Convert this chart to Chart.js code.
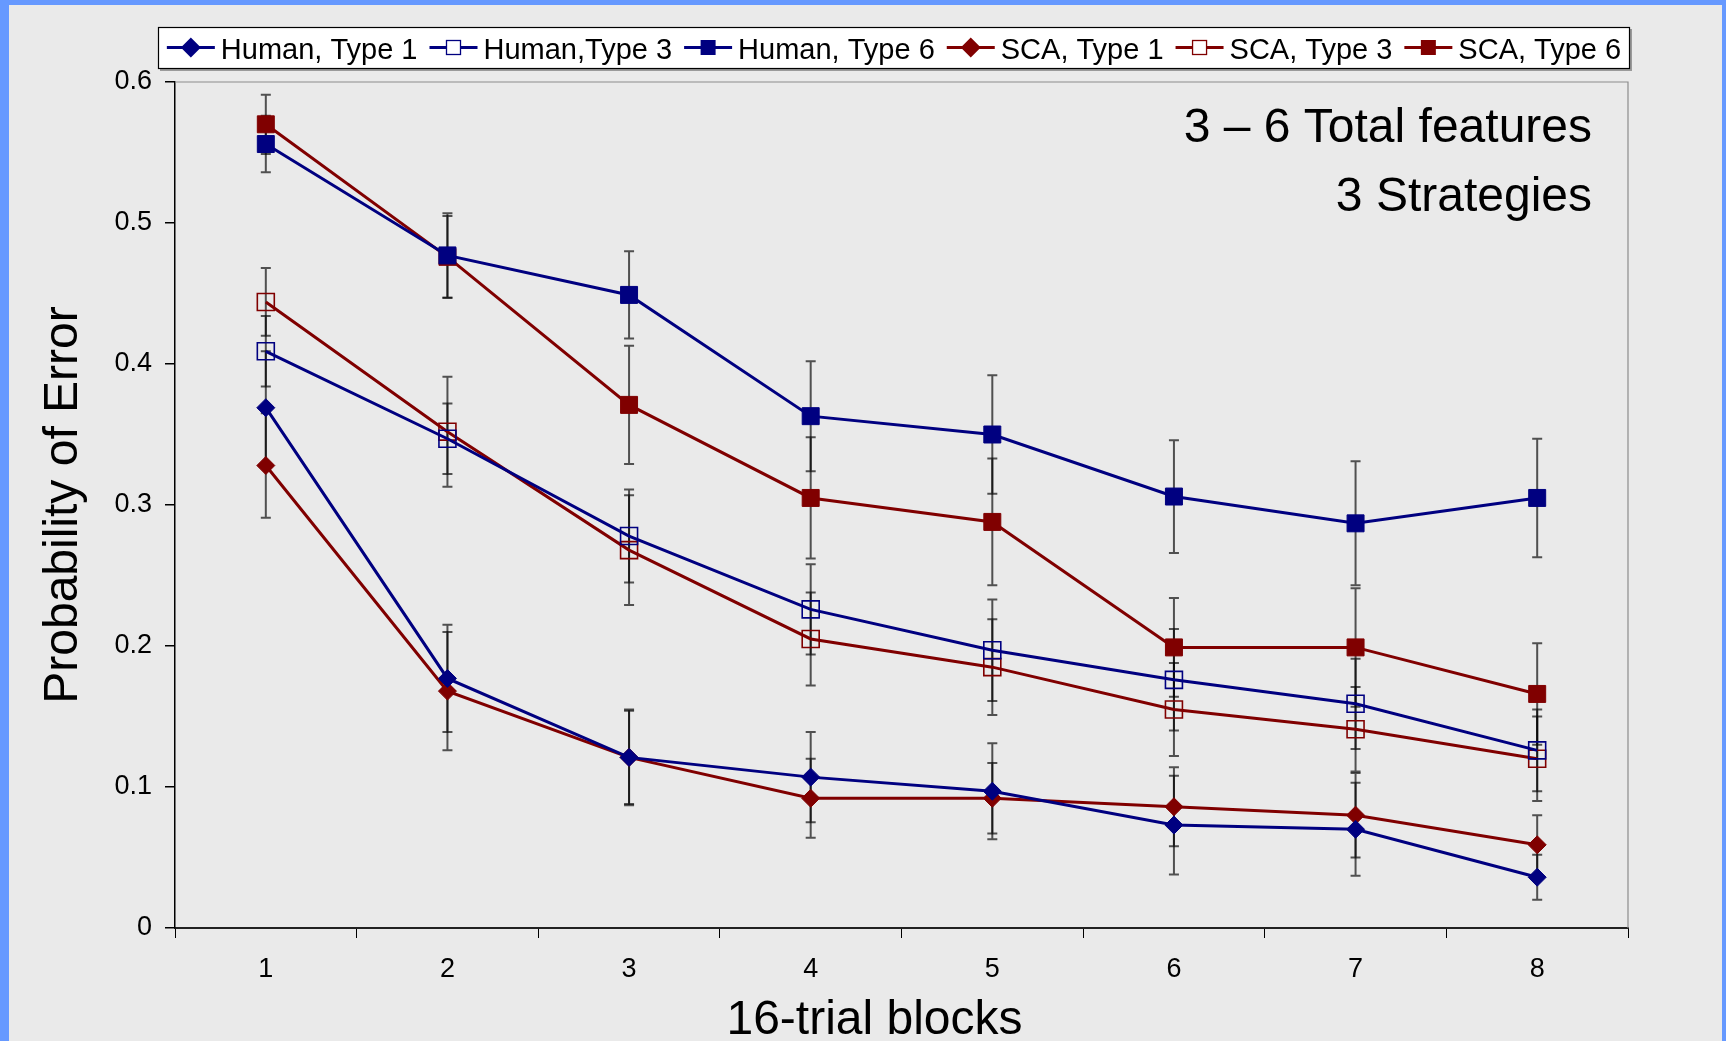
<!DOCTYPE html>
<html>
<head>
<meta charset="utf-8">
<title>Probability of Error by 16-trial block</title>
<script src="https://cdn.jsdelivr.net/npm/chart.js@4.4.1/dist/chart.umd.min.js"></script>
<style>
  html, body { margin: 0; padding: 0; background: #6699ff; }
  canvas { display: block; }
</style>
</head>
<body>
<canvas id="errChart" width="1726" height="1041"></canvas>
<script>
// Blocks of 16 trials on the x axis
const blockLabels = ['1', '2', '3', '4', '5', '6', '7', '8'];
const yTickLabels = ['0', '0.1', '0.2', '0.3', '0.4', '0.5', '0.6'];

// Mean probability of error per block, with the half-length of each error bar
const humanType1    = [0.369, 0.177, 0.121, 0.107, 0.097, 0.073, 0.070, 0.036];
const humanType1Err = [0.040, 0.038, 0.033, 0.032, 0.034, 0.035, 0.033, 0.016];
const humanType3    = [0.409, 0.347, 0.278, 0.226, 0.197, 0.176, 0.159, 0.126];
const humanType3Err = [0.025, 0.025, 0.033, 0.032, 0.036, 0.036, 0.032, 0.029];
const humanType6    = [0.556, 0.477, 0.449, 0.363, 0.350, 0.306, 0.287, 0.305];
const humanType6Err = [0.020, 0.030, 0.031, 0.039, 0.042, 0.040, 0.044, 0.042];
const scaType1      = [0.328, 0.168, 0.121, 0.092, 0.092, 0.086, 0.080, 0.059];
const scaType1Err   = [0.037, 0.042, 0.034, 0.028, 0.025, 0.028, 0.030, 0.021];
const scaType3      = [0.444, 0.352, 0.268, 0.205, 0.185, 0.155, 0.141, 0.120];
const scaType3Err   = [0.024, 0.039, 0.039, 0.033, 0.034, 0.033, 0.030, 0.030];
const scaType6      = [0.570, 0.476, 0.371, 0.305, 0.288, 0.199, 0.199, 0.166];
const scaType6Err   = [0.021, 0.029, 0.042, 0.043, 0.045, 0.035, 0.042, 0.036];

const seriesNames = ['Human, Type 1', 'Human,Type 3', 'Human, Type 6', 'SCA, Type 1', 'SCA, Type 3', 'SCA, Type 6'];
const noteLines = ['3 \u2013 6 Total features', '3 Strategies'];
const xTitle = '16-trial blocks';
const yTitle = 'Probability of Error';

const FONT = '"Liberation Sans", Arial, Helvetica, sans-serif';
const NAVY = '#000080';
const MAROON = '#800000';
const PANEL = '#eaeaea';

Chart.defaults.font.family = FONT;
Chart.defaults.color = '#000';

function makeSeries(label, values, errors, color, marker) {
  const base = {
    label: label,
    data: values,
    errorBars: errors,
    marker: marker,
    borderColor: color,
    backgroundColor: color,
    borderWidth: 3,
    tension: 0,
    fill: false,
    pointBorderColor: color
  };
  if (marker === 'diamond') {
    return Object.assign(base, { pointStyle: 'rectRot', pointRadius: 9, pointBackgroundColor: color, pointBorderWidth: 1 });
  }
  if (marker === 'open') {
    return Object.assign(base, { pointStyle: 'rect', pointRadius: 12, pointBackgroundColor: 'rgba(0,0,0,0)', pointBorderWidth: 1.6 });
  }
  return Object.assign(base, { pointStyle: 'rect', pointRadius: 12, pointBackgroundColor: color, pointBorderWidth: 1 });
}

const datasets = [
  makeSeries(seriesNames[0], humanType1, humanType1Err, NAVY, 'diamond'),
  makeSeries(seriesNames[1], humanType3, humanType3Err, NAVY, 'open'),
  makeSeries(seriesNames[2], humanType6, humanType6Err, NAVY, 'square'),
  makeSeries(seriesNames[3], scaType1, scaType1Err, MAROON, 'diamond'),
  makeSeries(seriesNames[4], scaType3, scaType3Err, MAROON, 'open'),
  makeSeries(seriesNames[5], scaType6, scaType6Err, MAROON, 'square')
];

// Page frame: blue edge with a light grey panel
const framePlugin = {
  id: 'frame',
  beforeDraw(chart) {
    const { ctx, width, height } = chart;
    ctx.save();
    ctx.fillStyle = '#6699ff';
    ctx.fillRect(0, 0, width, height);
    ctx.fillStyle = PANEL;
    ctx.fillRect(9, 5, width - 9 - 4, height - 5);
    ctx.restore();
  },
  afterDraw(chart) {
    // grey border on top and right of the plot area
    const { ctx, chartArea: a } = chart;
    ctx.save();
    ctx.strokeStyle = '#8c8c8c';
    ctx.lineWidth = 1.2;
    ctx.beginPath();
    ctx.moveTo(a.left, a.top);
    ctx.lineTo(a.right, a.top);
    ctx.lineTo(a.right, a.bottom);
    ctx.stroke();
    ctx.restore();
  }
};

// Vertical error bars with caps, drawn behind the series lines
const errorBarPlugin = {
  id: 'errorBars',
  beforeDatasetsDraw(chart) {
    const { ctx } = chart;
    const xs = chart.scales.x, ys = chart.scales.y;
    ctx.save();
    ctx.strokeStyle = 'rgba(0,0,0,0.66)';
    ctx.lineWidth = 2;
    chart.data.datasets.forEach((ds, di) => {
      if (!chart.isDatasetVisible(di)) return;
      ds.data.forEach((v, i) => {
        const e = ds.errorBars[i];
        const x = xs.getPixelForValue(i);
        const yHi = ys.getPixelForValue(v + e);
        const yLo = ys.getPixelForValue(v - e);
        ctx.beginPath();
        ctx.moveTo(x, yHi); ctx.lineTo(x, yLo);
        ctx.moveTo(x - 5, yHi); ctx.lineTo(x + 5, yHi);
        ctx.moveTo(x - 5, yLo); ctx.lineTo(x + 5, yLo);
        ctx.stroke();
      });
    });
    ctx.restore();
  }
};

function drawLegendMarker(ctx, marker, x, y, color) {
  ctx.save();
  ctx.fillStyle = color;
  ctx.strokeStyle = color;
  if (marker === 'diamond') {
    const r = 10;
    ctx.beginPath();
    ctx.moveTo(x - r, y); ctx.lineTo(x, y - r); ctx.lineTo(x + r, y); ctx.lineTo(x, y + r);
    ctx.closePath();
    ctx.fill();
  } else if (marker === 'open') {
    ctx.fillStyle = '#ffffff';
    ctx.fillRect(x - 7, y - 7, 14, 14);
    ctx.lineWidth = 1.3;
    ctx.strokeRect(x - 7, y - 7, 14, 14);
  } else {
    ctx.fillRect(x - 7.5, y - 7.5, 15, 15);
  }
  ctx.restore();
}

// Boxed legend across the top, with a line-and-marker key for each series
const legendPlugin = {
  id: 'boxedLegend',
  afterDraw(chart) {
    const { ctx } = chart;
    const box = { left: 158, top: 27, right: 1630, bottom: 69 };
    ctx.save();
    ctx.fillStyle = '#9a9a9a';
    ctx.fillRect(box.left + 2, box.top + 2, box.right - box.left, box.bottom - box.top);
    ctx.fillStyle = '#ffffff';
    ctx.fillRect(box.left, box.top, box.right - box.left, box.bottom - box.top);
    ctx.strokeStyle = '#000';
    ctx.lineWidth = 1.2;
    ctx.strokeRect(box.left + 0.5, box.top + 0.5, box.right - box.left - 1, box.bottom - box.top - 1);

    ctx.font = '29px ' + FONT;
    const keyLen = 48, keyGap = 6, itemGap = 12;
    const items = chart.data.datasets.map(ds => ({ ds, w: keyLen + keyGap + ctx.measureText(ds.label).width }));
    const total = items.reduce((s, it) => s + it.w, 0) + itemGap * (items.length - 1);
    let x = (box.left + box.right) / 2 - total / 2;
    const yKey = 47.5, yText = 59;
    items.forEach(({ ds, w }) => {
      ctx.strokeStyle = ds.borderColor;
      ctx.lineWidth = 3;
      ctx.beginPath();
      ctx.moveTo(x, yKey); ctx.lineTo(x + keyLen, yKey);
      ctx.stroke();
      drawLegendMarker(ctx, ds.marker, x + keyLen / 2, yKey, ds.borderColor);
      ctx.fillStyle = '#000';
      ctx.textAlign = 'left';
      ctx.textBaseline = 'alphabetic';
      ctx.fillText(ds.label, x + keyLen + keyGap, yText);
      x += w + itemGap;
    });
    ctx.restore();
  }
};

// Note in the upper right of the plot and the x axis title
const textPlugin = {
  id: 'chartText',
  afterDraw(chart) {
    const { ctx, chartArea: a } = chart;
    ctx.save();
    ctx.fillStyle = '#000';
    ctx.font = '48px ' + FONT;
    ctx.textAlign = 'right';
    ctx.textBaseline = 'alphabetic';
    ctx.fillText(noteLines[0], a.right - 36, a.top + 60);
    ctx.fillText(noteLines[1], a.right - 36, a.top + 129);
    ctx.textAlign = 'center';
    ctx.fillText(xTitle, (a.left + a.right) / 2 - 27, a.bottom + 106);
    ctx.restore();
  }
};

new Chart(document.getElementById('errChart'), {
  type: 'line',
  data: { labels: blockLabels, datasets: datasets },
  options: {
    responsive: false,
    animation: false,
    devicePixelRatio: 1,
    layout: { padding: { left: 0, right: 98, top: 82, bottom: 0 } },
    plugins: {
      legend: { display: false },
      tooltip: { enabled: false }
    },
    scales: {
      x: {
        offset: true,
        grid: { offset: true, drawOnChartArea: false, drawTicks: true, tickLength: 10, color: '#000', lineWidth: 1 },
        border: { display: true, color: '#222', width: 2 },
        ticks: { color: '#000', font: { family: FONT, size: 27 }, padding: 15, maxRotation: 0, autoSkip: false },
        afterFit(scale) { scale.height = 113; }
      },
      y: {
        min: 0,
        max: 0.6,
        grid: { drawOnChartArea: false, drawTicks: true, tickLength: 10, color: '#000', lineWidth: 1.5 },
        border: { display: true, color: '#000', width: 1.5 },
        ticks: {
          stepSize: 0.1,
          color: '#000',
          font: { family: FONT, size: 27 },
          padding: 13,
          callback: (v) => yTickLabels[Math.round(v * 10)]
        },
        title: {
          display: true,
          text: yTitle,
          color: '#000',
          font: { family: FONT, size: 48, lineHeight: 1.2 },
          padding: { top: 35, bottom: 0 }
        },
        afterFit(scale) { scale.width = 175; }
      }
    }
  },
  plugins: [framePlugin, errorBarPlugin, legendPlugin, textPlugin]
});
</script>
</body>
</html>
